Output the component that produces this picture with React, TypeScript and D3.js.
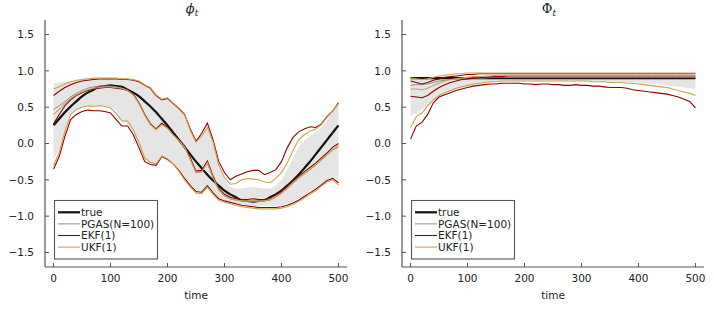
import React from "react";
import * as d3 from "d3";

const width = 714;
const height = 312;

const time = d3.range(0, 501, 10);
const xTicks = [0, 100, 200, 300, 400, 500];
const yTicks = [-1.5, -1.0, -0.5, 0.0, 0.5, 1.0, 1.5];
const legendLabels = ["true", "PGAS(N=100)", "EKF(1)", "UKF(1)"];

// left panel, phi_t
const trueL = [0.25, 0.34, 0.43, 0.51, 0.58, 0.65, 0.70, 0.74, 0.78, 0.79, 0.80, 0.79, 0.78, 0.74, 0.70, 0.65, 0.58, 0.51, 0.43, 0.34, 0.25, 0.15, 0.05, -0.05, -0.15, -0.25, -0.34, -0.43, -0.51, -0.58, -0.65, -0.70, -0.74, -0.78, -0.79, -0.80, -0.79, -0.78, -0.74, -0.70, -0.65, -0.58, -0.51, -0.43, -0.34, -0.25, -0.15, -0.05, 0.05, 0.15, 0.25];
const pgasMeanL = [0.47, 0.52, 0.58, 0.64, 0.69, 0.73, 0.76, 0.78, 0.79, 0.79, 0.79, 0.78, 0.76, 0.73, 0.67, 0.55, 0.39, 0.27, 0.20, 0.27, 0.21, 0.12, 0.04, -0.05, -0.22, -0.40, -0.39, -0.27, -0.47, -0.64, -0.72, -0.76, -0.78, -0.79, -0.80, -0.80, -0.80, -0.79, -0.78, -0.74, -0.69, -0.62, -0.55, -0.48, -0.42, -0.36, -0.30, -0.23, -0.16, -0.09, -0.05];
const bandLoL = [-0.22, -0.08, 0.18, 0.40, 0.47, 0.50, 0.52, 0.51, 0.52, 0.51, 0.50, 0.45, 0.30, 0.26, 0.14, -0.04, -0.22, -0.27, -0.28, -0.17, -0.20, -0.26, -0.35, -0.46, -0.56, -0.64, -0.66, -0.57, -0.67, -0.75, -0.78, -0.80, -0.82, -0.84, -0.85, -0.86, -0.86, -0.86, -0.86, -0.86, -0.85, -0.83, -0.80, -0.76, -0.71, -0.66, -0.61, -0.56, -0.50, -0.47, -0.50];
const bandHiL = [0.83, 0.84, 0.85, 0.86, 0.87, 0.88, 0.88, 0.89, 0.89, 0.89, 0.89, 0.88, 0.88, 0.87, 0.86, 0.84, 0.79, 0.75, 0.65, 0.59, 0.61, 0.54, 0.47, 0.39, 0.18, 0.02, 0.10, 0.22, 0.00, -0.32, -0.50, -0.60, -0.62, -0.62, -0.61, -0.60, -0.61, -0.62, -0.62, -0.58, -0.50, -0.36, -0.20, -0.05, 0.04, 0.10, 0.15, 0.22, 0.32, 0.45, 0.60];
const ekfMeanL = [0.27, 0.40, 0.52, 0.60, 0.66, 0.70, 0.73, 0.75, 0.76, 0.77, 0.77, 0.76, 0.75, 0.73, 0.68, 0.56, 0.40, 0.27, 0.20, 0.28, 0.22, 0.13, 0.05, -0.03, -0.20, -0.38, -0.37, -0.24, -0.45, -0.62, -0.70, -0.74, -0.76, -0.77, -0.77, -0.76, -0.77, -0.77, -0.75, -0.71, -0.66, -0.59, -0.52, -0.45, -0.39, -0.33, -0.27, -0.20, -0.13, -0.05, 0.00];
const ekfLoL = [-0.35, -0.18, 0.10, 0.33, 0.40, 0.44, 0.46, 0.45, 0.45, 0.44, 0.42, 0.33, 0.24, 0.24, 0.12, -0.06, -0.25, -0.29, -0.30, -0.18, -0.22, -0.28, -0.37, -0.48, -0.58, -0.66, -0.67, -0.58, -0.68, -0.76, -0.79, -0.81, -0.83, -0.85, -0.86, -0.87, -0.88, -0.88, -0.88, -0.88, -0.87, -0.85, -0.82, -0.78, -0.73, -0.68, -0.63, -0.57, -0.51, -0.48, -0.54];
const ekfHiL = [0.66, 0.72, 0.77, 0.81, 0.84, 0.86, 0.87, 0.88, 0.89, 0.89, 0.89, 0.89, 0.88, 0.88, 0.87, 0.85, 0.80, 0.76, 0.66, 0.60, 0.62, 0.55, 0.48, 0.40, 0.20, 0.03, 0.14, 0.28, 0.05, -0.25, -0.40, -0.50, -0.45, -0.42, -0.39, -0.37, -0.37, -0.43, -0.40, -0.36, -0.25, -0.06, 0.08, 0.16, 0.20, 0.23, 0.22, 0.27, 0.37, 0.45, 0.56];
const ukfMeanL = [0.40, 0.47, 0.55, 0.62, 0.67, 0.71, 0.74, 0.76, 0.77, 0.78, 0.78, 0.77, 0.76, 0.73, 0.67, 0.55, 0.39, 0.26, 0.19, 0.26, 0.21, 0.12, 0.04, -0.05, -0.22, -0.40, -0.39, -0.26, -0.47, -0.64, -0.72, -0.76, -0.78, -0.79, -0.79, -0.78, -0.79, -0.79, -0.77, -0.73, -0.68, -0.61, -0.54, -0.47, -0.41, -0.35, -0.29, -0.22, -0.15, -0.08, -0.03];
const ukfLoL = [-0.30, -0.12, 0.17, 0.40, 0.47, 0.50, 0.52, 0.51, 0.52, 0.51, 0.49, 0.41, 0.31, 0.31, 0.19, 0.01, -0.20, -0.26, -0.28, -0.17, -0.21, -0.28, -0.38, -0.50, -0.60, -0.68, -0.69, -0.60, -0.70, -0.78, -0.81, -0.83, -0.85, -0.87, -0.88, -0.89, -0.90, -0.90, -0.90, -0.90, -0.89, -0.87, -0.84, -0.80, -0.75, -0.70, -0.65, -0.59, -0.53, -0.50, -0.57];
const ukfHiL = [0.75, 0.78, 0.82, 0.85, 0.87, 0.88, 0.89, 0.90, 0.90, 0.90, 0.90, 0.90, 0.89, 0.89, 0.88, 0.86, 0.81, 0.77, 0.67, 0.61, 0.63, 0.56, 0.49, 0.41, 0.18, 0.02, 0.10, 0.22, 0.02, -0.30, -0.47, -0.56, -0.55, -0.50, -0.48, -0.49, -0.50, -0.53, -0.54, -0.48, -0.40, -0.27, -0.10, 0.05, 0.12, 0.17, 0.20, 0.26, 0.36, 0.45, 0.55];

// right panel, Phi_t
const trueR = [0.90, 0.90, 0.90, 0.90, 0.90, 0.90, 0.90, 0.90, 0.90, 0.90, 0.90, 0.90, 0.90, 0.90, 0.90, 0.90, 0.90, 0.90, 0.90, 0.90, 0.90, 0.90, 0.90, 0.90, 0.90, 0.90, 0.90, 0.90, 0.90, 0.90, 0.90, 0.90, 0.90, 0.90, 0.90, 0.90, 0.90, 0.90, 0.90, 0.90, 0.90, 0.90, 0.90, 0.90, 0.90, 0.90, 0.90, 0.90, 0.90, 0.90, 0.90];
const pgasMeanR = [0.80, 0.81, 0.81, 0.82, 0.84, 0.86, 0.87, 0.88, 0.89, 0.89, 0.90, 0.90, 0.90, 0.90, 0.91, 0.91, 0.91, 0.91, 0.91, 0.91, 0.91, 0.91, 0.91, 0.91, 0.91, 0.91, 0.91, 0.91, 0.91, 0.91, 0.91, 0.91, 0.91, 0.91, 0.91, 0.91, 0.91, 0.91, 0.91, 0.91, 0.91, 0.91, 0.91, 0.91, 0.91, 0.91, 0.91, 0.91, 0.91, 0.91, 0.91];
const bandLoR = [0.38, 0.42, 0.47, 0.52, 0.58, 0.64, 0.68, 0.71, 0.74, 0.76, 0.78, 0.80, 0.82, 0.83, 0.84, 0.85, 0.85, 0.86, 0.86, 0.86, 0.86, 0.86, 0.86, 0.86, 0.86, 0.86, 0.86, 0.86, 0.86, 0.86, 0.86, 0.86, 0.86, 0.85, 0.85, 0.85, 0.85, 0.85, 0.84, 0.84, 0.84, 0.83, 0.83, 0.82, 0.81, 0.80, 0.79, 0.78, 0.77, 0.76, 0.75];
const bandHiR = [0.92, 0.92, 0.92, 0.92, 0.92, 0.92, 0.92, 0.92, 0.92, 0.92, 0.92, 0.92, 0.92, 0.92, 0.92, 0.92, 0.92, 0.92, 0.92, 0.92, 0.92, 0.92, 0.92, 0.92, 0.92, 0.92, 0.92, 0.92, 0.92, 0.92, 0.92, 0.92, 0.92, 0.92, 0.92, 0.92, 0.92, 0.92, 0.92, 0.92, 0.92, 0.92, 0.92, 0.92, 0.92, 0.92, 0.92, 0.92, 0.92, 0.92, 0.92];
const ekfMeanR = [0.65, 0.64, 0.63, 0.66, 0.72, 0.77, 0.81, 0.84, 0.86, 0.88, 0.89, 0.90, 0.91, 0.91, 0.92, 0.92, 0.92, 0.93, 0.93, 0.93, 0.93, 0.93, 0.93, 0.93, 0.93, 0.93, 0.93, 0.93, 0.93, 0.93, 0.93, 0.93, 0.93, 0.93, 0.93, 0.93, 0.93, 0.93, 0.93, 0.93, 0.93, 0.93, 0.93, 0.93, 0.93, 0.93, 0.93, 0.93, 0.93, 0.93, 0.93];
const ekfLoR = [0.06, 0.24, 0.29, 0.40, 0.56, 0.64, 0.67, 0.70, 0.73, 0.75, 0.77, 0.79, 0.80, 0.81, 0.82, 0.82, 0.83, 0.83, 0.83, 0.83, 0.82, 0.82, 0.81, 0.82, 0.82, 0.81, 0.81, 0.80, 0.80, 0.81, 0.80, 0.80, 0.79, 0.79, 0.78, 0.77, 0.77, 0.77, 0.76, 0.74, 0.73, 0.72, 0.71, 0.70, 0.69, 0.68, 0.66, 0.64, 0.61, 0.58, 0.49];
const ekfHiR = [0.86, 0.84, 0.82, 0.84, 0.87, 0.89, 0.91, 0.92, 0.93, 0.94, 0.95, 0.95, 0.96, 0.96, 0.96, 0.96, 0.96, 0.96, 0.96, 0.96, 0.96, 0.96, 0.96, 0.96, 0.96, 0.96, 0.96, 0.96, 0.96, 0.96, 0.96, 0.96, 0.96, 0.96, 0.96, 0.96, 0.96, 0.96, 0.96, 0.96, 0.96, 0.96, 0.96, 0.96, 0.96, 0.96, 0.96, 0.96, 0.96, 0.96, 0.96];
const ukfMeanR = [0.75, 0.75, 0.74, 0.76, 0.80, 0.83, 0.86, 0.88, 0.89, 0.90, 0.91, 0.92, 0.92, 0.93, 0.93, 0.94, 0.94, 0.94, 0.94, 0.94, 0.94, 0.94, 0.94, 0.94, 0.94, 0.94, 0.94, 0.94, 0.94, 0.94, 0.94, 0.94, 0.94, 0.94, 0.94, 0.94, 0.94, 0.94, 0.94, 0.94, 0.94, 0.94, 0.94, 0.94, 0.94, 0.94, 0.94, 0.94, 0.94, 0.94, 0.94];
const ukfLoR = [0.22, 0.37, 0.42, 0.52, 0.60, 0.66, 0.70, 0.73, 0.76, 0.78, 0.80, 0.82, 0.83, 0.84, 0.85, 0.85, 0.86, 0.86, 0.86, 0.86, 0.86, 0.86, 0.86, 0.86, 0.86, 0.86, 0.86, 0.86, 0.86, 0.86, 0.86, 0.86, 0.85, 0.85, 0.85, 0.84, 0.84, 0.84, 0.83, 0.83, 0.82, 0.81, 0.80, 0.79, 0.78, 0.77, 0.75, 0.73, 0.71, 0.69, 0.66];
const ukfHiR = [0.90, 0.89, 0.88, 0.89, 0.91, 0.93, 0.94, 0.95, 0.96, 0.96, 0.97, 0.97, 0.97, 0.97, 0.97, 0.97, 0.97, 0.97, 0.97, 0.97, 0.97, 0.97, 0.97, 0.97, 0.97, 0.97, 0.97, 0.97, 0.97, 0.97, 0.97, 0.97, 0.97, 0.97, 0.97, 0.97, 0.97, 0.97, 0.97, 0.97, 0.97, 0.97, 0.97, 0.97, 0.97, 0.97, 0.97, 0.97, 0.97, 0.97, 0.97];

const cTrue = "#111111";
const cPgas = "#8e8e8e";
const cEkf = "#8b0000";
const cUkf = "#caa252";
const cBand = "#e5e5e5";
const cAxis = "#555555";

const top = 20;
const bottom = 267;
const font = "DejaVu Sans, sans-serif";

const fmt = (v) => (v < 0 ? "\u2212" : "") + Math.abs(v).toFixed(1);

const Panel = ({ id, left, right, title, italicTitle, s }) => {
  const x = d3.scaleLinear().domain([-15, 515]).range([left, right]);
  const y = d3.scaleLinear().domain([-1.7, 1.7]).range([bottom, top]);
  const line = (vals) =>
    d3.line().x((d, i) => x(time[i])).y((d) => y(d))(vals);
  const smooth = (vals) =>
    d3.line().x((d, i) => x(time[i])).y((d) => y(d)).curve(d3.curveMonotoneX)(vals);
  const band = d3
    .area()
    .x((d, i) => x(time[i]))
    .y0((d, i) => y(s.bandLo[i]))
    .y1((d, i) => y(s.bandHi[i]))(time);

  const legendColors = [cTrue, cPgas, cEkf, cUkf];
  const legendWidths = [2.2, 1, 1.1, 1.1];
  const lx = left + 9.5;
  const ly = 200.5;

  return (
    <g>
      <defs>
        <clipPath id={id}>
          <rect x={left} y={top} width={right - left} height={bottom - top} />
        </clipPath>
      </defs>
      <text
        x={(left + right) / 2 - 4}
        y={13}
        textAnchor="middle"
        fontFamily="DejaVu Serif, serif"
        fontSize={13}
        fill="#222"
      >
        <tspan fontStyle={italicTitle ? "italic" : "normal"}>{title}</tspan>
        <tspan fontStyle="italic" fontSize={9} dy={3}>t</tspan>
      </text>
      <g clipPath={`url(#${id})`}>
        <path d={band} fill={cBand} stroke="none" />
        <path d={smooth(s.truth)} fill="none" stroke={cTrue} strokeWidth={2.2} />
        <path d={line(s.pgas)} fill="none" stroke={cPgas} strokeWidth={1} />
        {[s.ekfHi, s.ekfMean, s.ekfLo].map((v, i) => (
          <path key={"e" + i} d={line(v)} fill="none" stroke={cEkf} strokeWidth={1.1} />
        ))}
        {[s.ukfHi, s.ukfMean, s.ukfLo].map((v, i) => (
          <path key={"u" + i} d={line(v)} fill="none" stroke={cUkf} strokeWidth={1.1} />
        ))}
      </g>
      {/* axes */}
      <line x1={left} x2={left} y1={top} y2={bottom} stroke={cAxis} strokeWidth={1.2} />
      <line x1={left} x2={right} y1={bottom} y2={bottom} stroke={cAxis} strokeWidth={1.2} />
      {yTicks.map((t) => (
        <g key={"y" + t}>
          <line x1={left} x2={left + 4} y1={y(t)} y2={y(t)} stroke={cAxis} strokeWidth={1} />
          <text
            x={left - 11}
            y={y(t) + 3.8}
            textAnchor="end"
            fontFamily={font}
            fontSize={10.5}
            fill="#222"
          >
            {fmt(t)}
          </text>
        </g>
      ))}
      {xTicks.map((t) => (
        <g key={"x" + t}>
          <line x1={x(t)} x2={x(t)} y1={bottom} y2={bottom - 4} stroke={cAxis} strokeWidth={1} />
          <text
            x={x(t)}
            y={282}
            textAnchor="middle"
            fontFamily={font}
            fontSize={10.5}
            fill="#222"
          >
            {t}
          </text>
        </g>
      ))}
      <text
        x={(left + right) / 2}
        y={299}
        textAnchor="middle"
        fontFamily={font}
        fontSize={10.5}
        fill="#222"
      >
        time
      </text>
      {/* legend */}
      <rect x={lx} y={ly} width={103} height={58.5} fill="white" stroke={cAxis} strokeWidth={1.1} />
      {legendLabels.map((lab, i) => {
        const yy = 212.3 + i * 11.6;
        return (
          <g key={lab}>
            <line
              x1={lx + 3.5}
              x2={lx + 25.5}
              y1={yy}
              y2={yy}
              stroke={legendColors[i]}
              strokeWidth={legendWidths[i]}
            />
            <text x={lx + 26.5} y={yy + 3.8} fontFamily={font} fontSize={10.5} fill="#222">
              {lab}
            </text>
          </g>
        );
      })}
    </g>
  );
};

export default function App() {
  const left = {
    truth: trueL, pgas: pgasMeanL, bandLo: bandLoL, bandHi: bandHiL,
    ekfMean: ekfMeanL, ekfLo: ekfLoL, ekfHi: ekfHiL,
    ukfMean: ukfMeanL, ukfLo: ukfLoL, ukfHi: ukfHiL,
  };
  const right = {
    truth: trueR, pgas: pgasMeanR, bandLo: bandLoR, bandHi: bandHiR,
    ekfMean: ekfMeanR, ekfLo: ekfLoR, ekfHi: ekfHiR,
    ukfMean: ukfMeanR, ukfLo: ukfLoR, ukfHi: ukfHiR,
  };
  return (
    <svg
      width={width}
      height={height}
      style={{ position: "absolute", left: 0, top: 0, background: "white" }}
    >
      <Panel id="clipL" left={45} right={347} title={"\u03D5"} italicTitle={true} s={left} />
      <Panel id="clipR" left={402} right={704} title={"\u03A6"} italicTitle={false} s={right} />
    </svg>
  );
}
